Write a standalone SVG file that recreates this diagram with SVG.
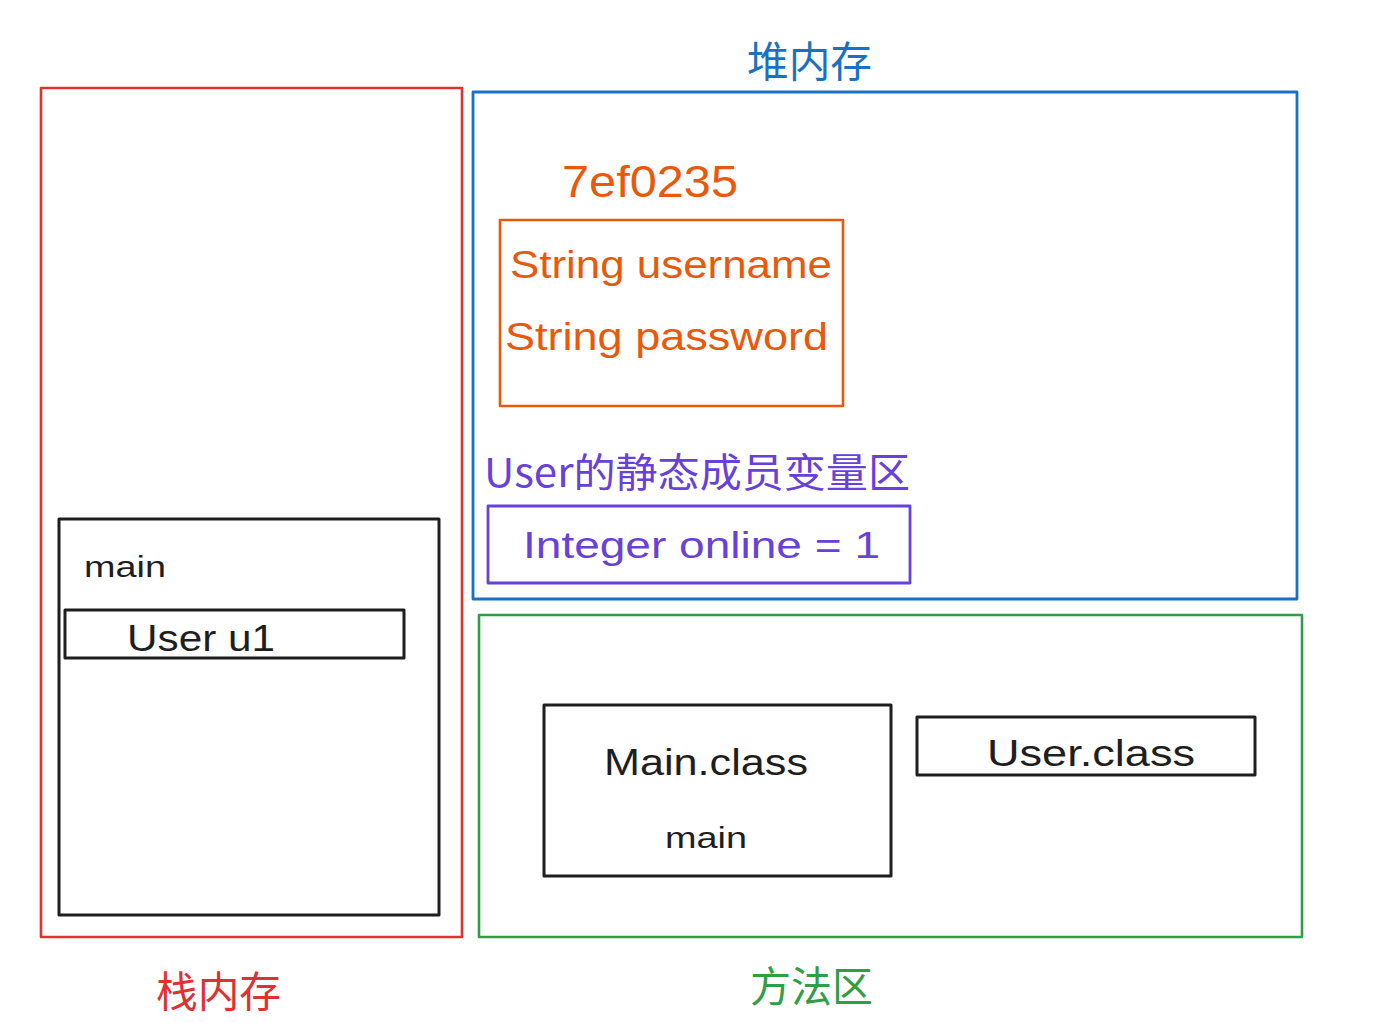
<svg xmlns="http://www.w3.org/2000/svg" width="1390" height="1023" viewBox="0 0 1390 1023">
<style>
.box{fill:none;stroke-linejoin:round;stroke-linecap:round}
.k{stroke:#1e1e1e;stroke-width:3}
.red{stroke:#e03131;stroke-width:2.6}
.blue{stroke:#1971c2;stroke-width:2.8}
.green{stroke:#2f9e44;stroke-width:2.6}
.orange{stroke:#e8590c;stroke-width:2.6}
.purple{stroke:#6741d9;stroke-width:2.8}
.lat{font-family:"Liberation Sans","Noto Sans CJK SC",sans-serif;}
.cjk{font-family:"Noto Sans CJK SC","Liberation Sans",sans-serif;}
</style>
<rect width="1390" height="1023" fill="#ffffff"/>

<g id="stack">
<rect class="box red" x="41" y="88" width="421" height="849"/>
<text class="cjk" x="156" y="1007" font-size="42" fill="#e03131" textLength="125" lengthAdjust="spacingAndGlyphs">栈内存</text>
</g>

<g id="heap">
<rect class="box blue" x="473" y="92" width="824" height="507"/>
<text class="cjk" x="747" y="77" font-size="42" fill="#1971c2" textLength="125" lengthAdjust="spacingAndGlyphs">堆内存</text>
</g>

<g id="method-area">
<rect class="box green" x="479" y="615" width="823" height="322"/>
<text class="cjk" x="750" y="1002" font-size="42" fill="#2f9e44" textLength="123" lengthAdjust="spacingAndGlyphs">方法区</text>
</g>

<g id="object">
<text class="lat" x="562" y="197" font-size="44" fill="#e8590c" textLength="176" lengthAdjust="spacingAndGlyphs">7ef0235</text>
<rect class="box orange" x="500" y="220" width="343" height="186"/>
<text class="lat" x="510" y="278" font-size="38" fill="#e8590c" textLength="322" lengthAdjust="spacingAndGlyphs">String username</text>
<text class="lat" x="505" y="350" font-size="38" fill="#e8590c" textLength="323" lengthAdjust="spacingAndGlyphs">String password</text>
</g>

<g id="static-area">
<text class="cjk" x="484" y="487" font-size="40" fill="#6741d9" textLength="426" lengthAdjust="spacingAndGlyphs">User的静态成员变量区</text>
<rect class="box purple" x="488" y="506" width="422" height="77"/>
<text class="lat" x="523" y="558" font-size="36" fill="#6741d9" textLength="357" lengthAdjust="spacingAndGlyphs">Integer online = 1</text>
</g>

<g id="main-frame">
<rect class="box k" x="59" y="519" width="380" height="396"/>
<text class="lat" x="84" y="577" font-size="30" fill="#1e1e1e" textLength="82" lengthAdjust="spacingAndGlyphs">main</text>
</g>

<g id="user-u1">
<rect class="box k" x="65" y="610" width="339" height="48"/>
<text class="lat" x="127" y="651" font-size="36" fill="#1e1e1e" textLength="148" lengthAdjust="spacingAndGlyphs">User u1</text>
</g>

<g id="main-class">
<rect class="box k" x="544" y="705" width="347" height="171"/>
<text class="lat" x="604" y="775" font-size="36" fill="#1e1e1e" textLength="204" lengthAdjust="spacingAndGlyphs">Main.class</text>
<text class="lat" x="665" y="848" font-size="30" fill="#1e1e1e" textLength="82" lengthAdjust="spacingAndGlyphs">main</text>
</g>

<g id="user-class">
<rect class="box k" x="917" y="717" width="338" height="58"/>
<text class="lat" x="987" y="766" font-size="36" fill="#1e1e1e" textLength="208" lengthAdjust="spacingAndGlyphs">User.class</text>
</g>

<g id="connectors"></g>
</svg>
